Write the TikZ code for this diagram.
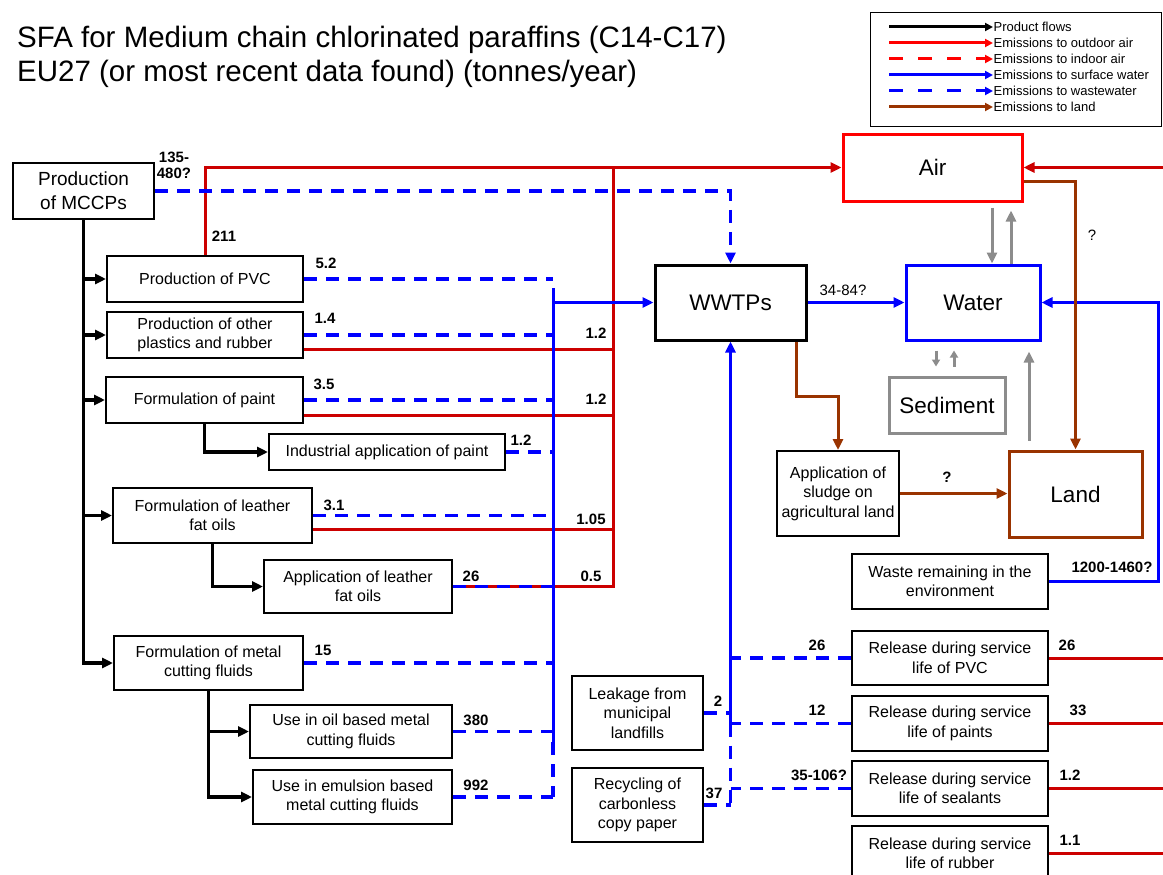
\documentclass[tikz,border=0pt]{standalone}
\usepackage{fontspec}
\setmainfont{Liberation Sans}
\usetikzlibrary{arrows.meta,calc}
\definecolor{dred}{RGB}{204,0,0}
\definecolor{bred}{RGB}{255,0,0}
\definecolor{bblue}{RGB}{0,0,255}
\definecolor{brn}{RGB}{153,51,0}
\definecolor{gry}{RGB}{140,140,140}
\begin{document}
\begin{tikzpicture}[x=1pt,y=-1pt,line join=miter]
\tikzset{
  box/.style={draw=black, line width=2pt, fill=white, align=center, inner sep=1pt, font=\fontsize{16}{19.5}\selectfont},
  bigbox/.style={line width=3pt, fill=white, align=center, inner sep=1pt, font=\fontsize{22.5}{26}\selectfont},
  lbl/.style={inner sep=0pt, align=center, font=\bfseries\fontsize{15}{16}\selectfont},
  rlbl/.style={inner sep=0pt, font=\fontsize{15}{16}\selectfont},
  legt/.style={anchor=west, inner sep=0.5pt, font=\fontsize{13}{15}\selectfont},
  arr/.style={-{Triangle[length=11pt,width=10pt]}},
  sarr/.style={-{Triangle[length=7pt,width=8pt]}},
  larr/.style={-{Triangle[length=8pt,width=8pt]}},
  prodline/.style={draw=black, line width=3.5pt},
  redline/.style={draw=dred, line width=3pt},
  bdash/.style={draw=bblue, line width=3.5pt, dash pattern=on 13pt off 9pt},
  bsol/.style={draw=bblue, line width=3pt},
  brwline/.style={draw=brn, line width=3pt},
  gline/.style={draw=gry, line width=3pt}
}
\useasboundingbox (0,0) rectangle (1163,875);
\clip (0,0) rectangle (1163,875);

% title
\node[anchor=north west, align=left, inner sep=0pt, font=\fontsize{29.5}{34}\selectfont] (title) at (17,26)
  {SFA for Medium chain chlorinated paraffins (C14-C17)\\EU27 (or most recent data found) (tonnes/year)};

% legend
\node[draw=black, line width=1pt, minimum width=291pt, minimum height=113pt, inner sep=0pt] (leg) at (1015.5,69.5) {};
\node[legt] (lt1) at (993,27) {Product flows};
\node[legt] (lt2) at (993,43) {Emissions to outdoor air};
\node[legt] (lt3) at (993,59) {Emissions to indoor air};
\node[legt] (lt4) at (993,75) {Emissions to surface water};
\node[legt] (lt5) at (993,91) {Emissions to wastewater};
\node[legt] (lt6) at (993,107) {Emissions to land};
\coordinate (lc1) at (889,27);
\coordinate (lc2) at (889,43);
\coordinate (lc3) at (889,59);
\coordinate (lc4) at (889,75);
\coordinate (lc5) at (889,91);
\coordinate (lc6) at (889,107);
\draw[larr, draw=black, line width=3pt] (lc1) -- (lt1.west);
\draw[larr, draw=bred, line width=3pt] (lc2) -- (lt2.west);
\draw[larr, draw=bred, line width=3pt, dash pattern=on 14pt off 15pt] (lc3) -- (lt3.west);
\draw[larr, draw=bblue, line width=3pt] (lc4) -- (lt4.west);
\draw[larr, draw=bblue, line width=3pt, dash pattern=on 14pt off 15pt] (lc5) -- (lt5.west);
\draw[larr, draw=brn, line width=3pt] (lc6) -- (lt6.west);

% left boxes
\node[box, line width=2.5pt, minimum width=141pt, minimum height=56pt, font=\fontsize{19}{24}\selectfont] (mccp) at (83.5,191) {Production\\of MCCPs};
\node[box, minimum width=196pt, minimum height=46pt] (pvc) at (205,279) {Production of PVC};
\node[box, minimum width=196pt, minimum height=46pt] (op) at (205,335) {Production of other\\plastics and rubber};
\node[box, minimum width=197pt, minimum height=46pt] (fp) at (204.5,400) {Formulation of paint};
\node[box, minimum width=236pt, minimum height=36pt] (iap) at (387,452) {Industrial application of paint};
\node[box, minimum width=199pt, minimum height=55pt] (flf) at (212.5,515.5) {Formulation of leather\\fat oils};
\node[box, minimum width=188pt, minimum height=53pt] (alf) at (358,586.5) {Application of leather\\fat oils};
\node[box, minimum width=189pt, minimum height=54pt] (fmc) at (208.5,663) {Formulation of metal\\cutting fluids};
\node[box, minimum width=202pt, minimum height=53pt] (uoil) at (351,731.5) {Use in oil based metal\\cutting fluids};
\node[box, minimum width=199pt, minimum height=54pt] (uemu) at (352.5,797) {Use in emulsion based\\metal cutting fluids};

% right boxes
\node[bigbox, draw=bred, minimum width=179pt, minimum height=67pt] (air) at (932.5,167.5) {Air};
\node[bigbox, draw=black, minimum width=151pt, minimum height=75pt] (wwtp) at (730.5,302.5) {WWTPs};
\node[bigbox, draw=bblue, minimum width=134pt, minimum height=75pt] (water) at (973,302.5) {Water};
\node[bigbox, draw=gry, minimum width=116pt, minimum height=56pt] (sed) at (947,405) {Sediment};
\node[box, minimum width=122pt, minimum height=85pt] (sludge) at (838,493.5) {Application of\\sludge on\\agricultural land};
\node[bigbox, draw=brn, minimum width=133pt, minimum height=86pt] (land) at (1075.5,494) {Land};
\node[box, minimum width=196pt, minimum height=55pt] (waste) at (950,581.5) {Waste remaining in the\\environment};
\node[box, minimum width=196pt, minimum height=54pt] (rpvc) at (950,658) {Release during service\\life of PVC};
\node[box, minimum width=196pt, minimum height=55pt] (rpaint) at (950,723.5) {Release during service\\life of paints};
\node[box, minimum width=196pt, minimum height=55pt] (rseal) at (950,788.5) {Release during service\\life of sealants};
\node[box, minimum width=196pt, minimum height=55pt] (rrub) at (950,853.5) {Release during service\\life of rubber};
\node[box, minimum width=131pt, minimum height=74pt] (leak) at (637.5,713) {Leakage from\\municipal\\landfills};
\node[box, minimum width=131pt, minimum height=74pt] (recyc) at (637.5,805) {Recycling of\\carbonless\\copy paper};

% helper coordinates
\coordinate (rbus) at (613,0);
\coordinate (bbus) at (553,0);
\coordinate (bbtop) at (553,288);
\coordinate (bbmid) at (553,742);
\coordinate (redge) at (1175,0);
\coordinate (bright) at (1158,0);

% product flows
\draw[prodline,arr] (mccp.south) |- (fmc.west);
\draw[prodline,arr] (mccp.south |- pvc.west) -- (pvc.west);
\draw[prodline,arr] (mccp.south |- op.west) -- (op.west);
\draw[prodline,arr] (mccp.south |- fp.west) -- (fp.west);
\draw[prodline,arr] (mccp.south |- flf.west) -- (flf.west);
\draw[prodline,arr] (fp.south) |- (iap.west);
\draw[prodline,arr] (flf.south) |- (alf.west);
\draw[prodline,arr] (fmc.south) |- (uoil.west);
\draw[prodline,arr] (fmc.south) |- (uemu.west);

% red: outdoor air
\coordinate (opr) at ($(op.east)+(0,14)$);
\coordinate (fpr) at ($(fp.east)+(0,15)$);
\coordinate (flfr) at ($(flf.east)+(0,13.5)$);
\draw[redline,arr] (pvc.north) |- (air.west);
\draw[redline] (opr) -- (opr -| rbus);
\draw[redline] (fpr) -- (fpr -| rbus);
\draw[redline] (flfr) -- (flfr -| rbus);
\draw[redline] (alf.east) -| (rbus |- air.west);
\draw[redline] (rpvc.east) -- (rpvc.east -| redge);
\draw[redline] (rpaint.east) -- (rpaint.east -| redge);
\draw[redline] (rseal.east) -- (rseal.east -| redge);
\draw[redline] (rrub.east) -- (rrub.east -| redge);
\draw[redline,arr] (redge |- air.east) -- (air.east);

% blue: wastewater
\draw[bdash,arr] (mccp.east) -| (wwtp.north);
\draw[bdash] (pvc.east) -- (pvc.east -| bbus);
\draw[bdash] (op.east) -- (op.east -| bbus);
\draw[bdash] (fp.east) -- (fp.east -| bbus);
\draw[bdash] (iap.east) -- (iap.east -| bbus);
\draw[bdash] (flf.east) -- (flf.east -| bbus);
\draw[bdash] (alf.east) -- (alf.east -| bbus);
\draw[bdash] (fmc.east) -- (fmc.east -| bbus);
\draw[bdash] (uoil.east) -- (uoil.east -| bbus);
\draw[bdash] (uemu.east) -- (uemu.east -| bbus);
\draw[bsol] (bbtop) -- (bbmid);
\draw[bdash] (bbmid) -- (bbus |- uemu.east);
\draw[bsol,arr] (bbus |- wwtp.west) -- (wwtp.west);

\coordinate (wb2) at (wwtp.south |- rpaint.west);
\draw[bsol,arr] (wb2) -- (wwtp.south);
\draw[bdash] (wb2) -- (wwtp.south |- recyc.east);
\draw[bdash] (rpvc.west) -- (rpvc.west -| wwtp.south);
\draw[bdash] (rpaint.west) -- (rpaint.west -| wwtp.south);
\draw[bdash] (rseal.west) -- (rseal.west -| wwtp.south);
\draw[bdash] (leak.east) -- (leak.east -| wwtp.south);
\draw[bdash] (recyc.east) -- (recyc.east -| wwtp.south);

% blue: surface water
\draw[bsol,arr] (wwtp.east) -- (water.west);
\draw[bsol,arr] (waste.east) -| (bright |- water.east) -- (water.east);

% brown: land
\coordinate (wbr) at ($(wwtp.south east)+(-11,0)$);
\coordinate (abr) at ($(air.east)+(0,14)$);
\draw[brwline,arr] (wbr) -- ++(0,55) -| (sludge.north);
\draw[brwline,arr] (abr) -| (land.north);
\draw[brwline,arr] (sludge.east) -- (sludge.east -| land.west);

% grey exchanges
\draw[gline,arr] ($(water.north)+(19,-56)$) -- ($(water.north)+(19,0)$);
\draw[gline,arr] ($(water.north)+(38,0)$) -- ($(water.north)+(38,-53)$);
\draw[gline,sarr] ($(sed.north)+(-11,-25)$) -- ($(sed.north)+(-11,-9)$);
\draw[gline,sarr] ($(sed.north)+(7,-9)$) -- ($(sed.north)+(7,-25)$);
\draw[gline,arr] ($(land.north)+(-46.5,-9)$) -- ($(water.south)+(56,10)$);

% labels
\node[lbl] (l135) at (174,165) {135-\\480?};
\node[lbl] (l211) at (224,236) {211};
\node[lbl] (l52) at (326,263) {5.2};
\node[lbl] (l14) at (325,318) {1.4};
\node[lbl] (l12a) at (596,333) {1.2};
\node[lbl] (l35) at (324,384) {3.5};
\node[lbl] (l12b) at (596,399) {1.2};
\node[lbl] (l12c) at (521,440) {1.2};
\node[lbl] (l31) at (334,505) {3.1};
\node[lbl] (l105) at (591,519) {1.05};
\node[lbl] (l26a) at (471,576) {26};
\node[lbl] (l05) at (591,576) {0.5};
\node[lbl] (l15) at (323,650) {15};
\node[lbl] (l380) at (476,720) {380};
\node[lbl] (l992) at (476,785) {992};
\node[rlbl] (l3484) at (843,290) {34-84?};
\node[rlbl] (lq1) at (1092,235) {?};
\node[lbl] (lq2) at (947,477) {?};
\node[lbl] (l1200) at (1112,567) {1200-1460?};
\node[lbl] (l26b) at (817,645) {26};
\node[lbl] (l12d) at (817,710) {12};
\node[lbl] (l35106) at (819,775) {35-106?};
\node[lbl] (l26c) at (1067,645) {26};
\node[lbl] (l33) at (1078,710) {33};
\node[lbl] (l12e) at (1070,775) {1.2};
\node[lbl] (l11) at (1070,840) {1.1};
\node[lbl] (l2) at (718,701) {2};
\node[lbl] (l37) at (714,793) {37};
\end{tikzpicture}
\end{document}
